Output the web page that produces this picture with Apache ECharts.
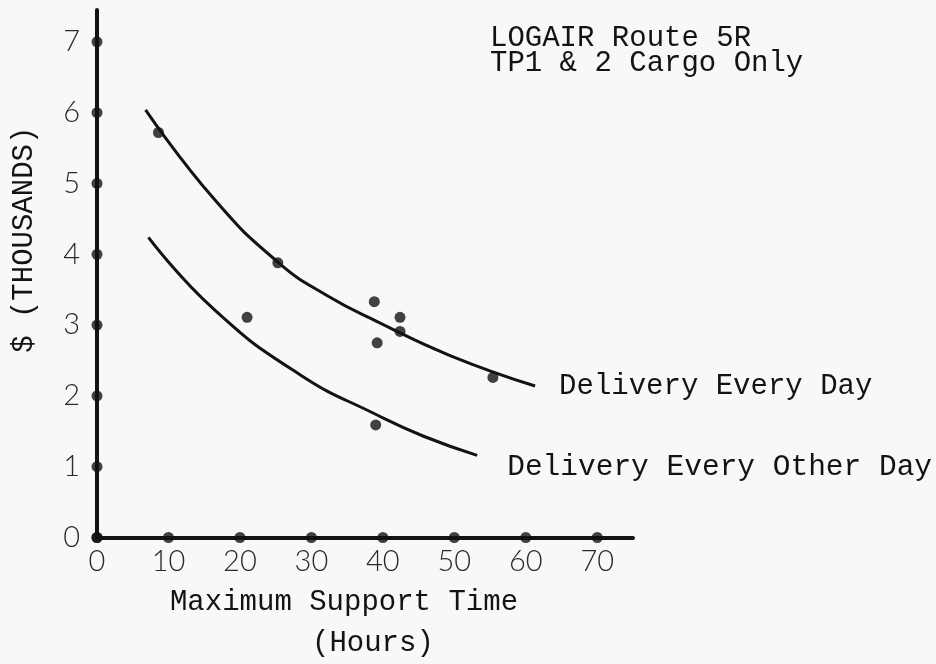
<html><head><meta charset='utf-8'>
<script src='https://cdn.jsdelivr.net/npm/echarts@6/dist/echarts.min.js'></script>
<style>body{margin:0;background:#f8f8f6;} #main{width:936px;height:664px;}</style>
</head><body>
<div id='main'></div>
<script>
// tick values
var xTicks = [0, 10, 20, 30, 40, 50, 60, 70];
var yTicks = [0, 1, 2, 3, 4, 5, 6, 7];

// observed points [hours, $ thousands]
var observed = [[8.6, 5.72], [25.3, 3.88], [21.0, 3.11], [38.8, 3.33], [39.2, 2.75],
  [42.4, 3.11], [42.4, 2.91], [55.4, 2.26], [39.0, 1.59]];

// fitted curves
var everyDay = [[6.8, 6.04], [16.3, 4.79], [25.3, 3.89], [32.3, 3.41], [39.2, 3.05], [49.4, 2.57], [61.3, 2.14]];
var everyOtherDay = [[7.2, 4.24], [16.3, 3.23], [28.4, 2.3], [39.2, 1.73], [45.7, 1.43], [53.2, 1.16]];

var mono = 'Liberation Mono';
var ink = '#131313';

var axisDots = [];
xTicks.forEach(function (v) { axisDots.push([v, 0]); });
yTicks.forEach(function (v) { axisDots.push([0, v]); });

var myChart = echarts.init(document.getElementById('main'));
myChart.setOption({
  backgroundColor: '#f8f8f6',
  animation: false,
  title: [{
    text: 'LOGAIR Route 5R\nTP1 & 2 Cargo Only',
    left: 485, top: 21,
    textStyle: {fontFamily: mono, fontSize: 29, fontWeight: 'normal', lineHeight: 25, color: ink}
  }, {
    text: '(Hours)',
    left: 307, top: 624,
    textStyle: {fontFamily: mono, fontSize: 29, fontWeight: 'normal', color: ink}
  }],
  grid: {left: 97, right: 303, top: 10, bottom: 126.5},
  xAxis: {
    type: 'value', min: 0, max: 75, interval: 10,
    name: 'Maximum Support Time', nameLocation: 'middle', nameGap: 50,
    nameTextStyle: {fontFamily: mono, fontSize: 29, color: ink, padding: [0, 42, 0, 0]},
    axisLine: {lineStyle: {color: ink, width: 4}},
    axisTick: {show: false}, splitLine: {show: false},
    axisLabel: {showMaxLabel: false, margin: 10, fontFamily: 'Lato', fontWeight: 300, fontSize: 29, color: '#2a2a2a'}
  },
  yAxis: {
    type: 'value', min: 0, max: 7.45, interval: 1,
    name: '$ (THOUSANDS)', nameLocation: 'middle', nameGap: 58, nameRotate: 90,
    nameTextStyle: {fontFamily: mono, fontSize: 29, color: ink, padding: [0, 0, 0, 68]},
    axisLine: {lineStyle: {color: ink, width: 4}},
    axisTick: {show: false}, splitLine: {show: false},
    axisLabel: {showMaxLabel: false, margin: 17, padding: [9, 0, 0, 0], fontFamily: 'Lato', fontWeight: 300, fontSize: 29, color: '#2a2a2a'}
  },
  series: [{
    name: 'Delivery Every Day', type: 'line', data: everyDay, smooth: 0.5, showSymbol: false,
    lineStyle: {color: ink, width: 3},
    endLabel: {show: true, formatter: '{a}', distance: 24, fontFamily: mono, fontSize: 29, color: ink}
  }, {
    name: 'Delivery Every Other Day', type: 'line', data: everyOtherDay, smooth: 0.5, showSymbol: false,
    lineStyle: {color: ink, width: 3},
    endLabel: {show: true, formatter: '{a}', distance: 30, offset: [0, 12], fontFamily: mono, fontSize: 29.5, color: ink}
  }, {
    type: 'scatter', data: observed, symbolSize: 11, itemStyle: {color: ink}
  }, {
    type: 'scatter', data: axisDots, symbolSize: 11, clip: false, itemStyle: {color: ink}
  }]
});
</script>
</body></html>
